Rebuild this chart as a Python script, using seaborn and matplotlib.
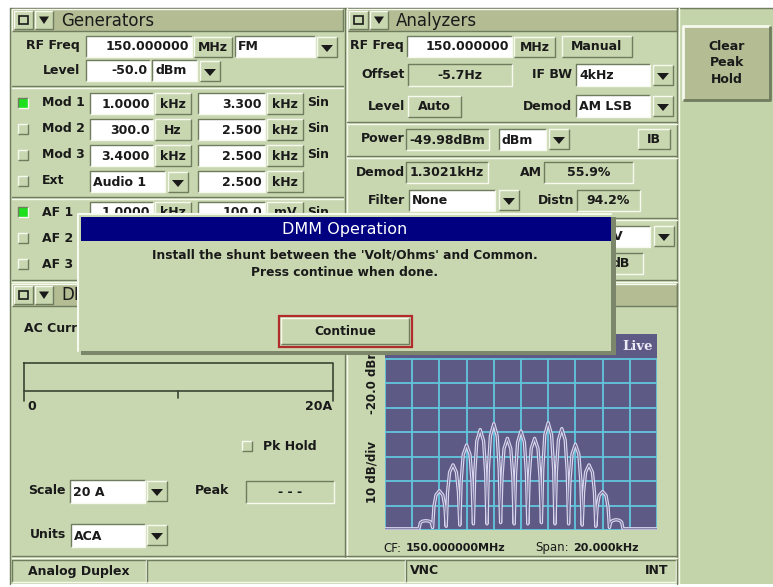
import matplotlib
matplotlib.use('Agg')
import matplotlib.pyplot as plt
import matplotlib.patches as patches
import seaborn as sns
import pandas as pd

# Spectrum trace (offset from CF in kHz, level in dBm)
trace_khz = [-10, -7.5, -7.4, -7.25, -7, -6.75, -6.6,
             -6.5, -6.4, -6.25, -6, -5.75, -5.6,
             -5.5, -5.4, -5.25, -5, -4.75, -4.6,
             -4.5, -4.4, -4.25, -4, -3.75, -3.6,
             -3.5, -3.4, -3.25, -3, -2.75, -2.6,
             -2.5, -2.4, -2.25, -2, -1.75, -1.6,
             -1.5, -1.4, -1.25, -1, -0.75, -0.6,
             -0.5, -0.4, -0.25, 0, 0.25, 0.4,
             0.5, 0.6, 0.75, 1, 1.25, 1.4,
             1.5, 1.6, 1.75, 2, 2.25, 2.4,
             2.5, 2.6, 2.75, 3, 3.25, 3.4,
             3.5, 3.6, 3.75, 4, 4.25, 4.4,
             4.5, 4.6, 4.75, 5, 5.25, 5.4,
             5.5, 5.6, 5.75, 6, 6.25, 6.4,
             6.5, 6.6, 6.75, 7, 7.25, 7.4,
             7.5, 10]
trace_dbm = [-99.5, -99.5, -97.0, -96.4, -96.2, -96.4, -97.0,
             -99.0, -90.3, -85.7, -84.0, -85.7, -90.3,
             -98.5, -84.5, -76.4, -73.4, -76.4, -84.5,
             -98.0, -80.0, -69.2, -65.3, -69.2, -80.0,
             -97.5, -76.6, -63.7, -59.0, -63.7, -76.6,
             -97.5, -75.2, -61.6, -56.6, -61.6, -75.2,
             -97.0, -78.5, -66.8, -62.6, -66.8, -78.5,
             -97.5, -76.9, -64.2, -59.6, -64.2, -76.9,
             -97.5, -78.5, -66.8, -62.6, -66.8, -78.5,
             -97.0, -75.0, -61.2, -56.2, -61.2, -75.0,
             -97.5, -76.3, -63.3, -58.6, -63.3, -76.3,
             -97.5, -79.9, -69.0, -65.0, -69.0, -79.9,
             -98.0, -84.5, -76.4, -73.4, -76.4, -84.5,
             -98.5, -90.5, -85.9, -84.3, -85.9, -90.5,
             -99.0, -96.8, -96.1, -95.8, -96.1, -96.8,
             -99.5, -99.5]

# Display settings shown on screen
ref_level = -20.0
db_per_div = 10
span_khz = 20.0

# Generator modulation rows
mod_labels = ['Mod 1', 'Mod 2', 'Mod 3']
mod_on = [True, False, False]
mod_rate = ['1.0000', '300.0', '3.4000']
mod_rate_unit = ['kHz', 'Hz', 'kHz']
mod_dev = ['3.300', '2.500', '2.500']
af_labels = ['AF 1', 'AF 2', 'AF 3']
af_on = [True, False, False]

sns.set_theme(style='white')
plt.rcParams['font.family'] = ['DejaVu Sans']

BG = '#c8d7b0'
BAR = '#b3bc93'
DARK = '#707c5e'
LIGHT = '#f6f9ee'
INK = '#1a1a1a'
NAVY = '#000080'

fig = plt.figure(figsize=(7.73, 5.87), dpi=100)
fig.patch.set_facecolor('white')
ax = fig.add_axes([0, 0, 1, 1], zorder=0)
ax.set_xlim(0, 773)
ax.set_ylim(587, 0)
ax.axis('off')


def box(x, y, w, h, fc, a=None, z=1):
    a = a or ax
    a.add_patch(patches.Rectangle((x, y), w, h, fc=fc, ec='none', zorder=z))


def bevel(x, y, w, h, up=True, a=None, z=1.1, lw=1.0):
    a = a or ax
    tl, br = (LIGHT, DARK) if up else (DARK, LIGHT)
    a.plot([x, x, x + w], [y + h, y, y], color=tl, lw=lw, zorder=z, solid_capstyle='butt')
    a.plot([x, x + w, x + w], [y + h, y + h, y], color=br, lw=lw, zorder=z, solid_capstyle='butt')


def txt(x, y, s, ha='left', size=9, color=INK, weight='bold', a=None, z=3, **kw):
    a = a or ax
    a.text(x, y, s, ha=ha, va='center', fontsize=size, color=color,
           fontweight=weight, zorder=z, **kw)


def field(x, y, w, h, s='', fc='white', ha='right', a=None, z=1):
    box(x, y, w, h, fc, a, z)
    bevel(x, y, w, h, up=False, a=a, z=z + 0.05)
    if s:
        tx = {'right': x + w - 3, 'left': x + 3, 'center': x + w / 2}[ha]
        txt(tx, y + h / 2 + 0.5, s, ha=ha, a=a, z=z + 0.1)


def button(x, y, w, h, s='', fc=BG, a=None, z=1, lw=1.0, size=9):
    box(x, y, w, h, fc, a, z)
    bevel(x, y, w, h, up=True, a=a, z=z + 0.05, lw=lw)
    if s:
        txt(x + w / 2, y + h / 2 + 0.5, s, ha='center', a=a, z=z + 0.1, size=size)


def dropdown(x, y):
    button(x, y, 20, 20)
    ax.add_patch(patches.Polygon([(x + 4, y + 8), (x + 16, y + 8), (x + 10, y + 15)],
                                 closed=True, fc=INK, ec='none', zorder=2))


def checkbox(x, y, on=False):
    box(x, y, 10, 10, '#1ee01e' if on else BG)
    bevel(x, y, 10, 10, up=not on)


def separator(x0, x1, y):
    ax.plot([x0, x1], [y, y], color=DARK, lw=1, zorder=1.2)
    ax.plot([x0, x1], [y + 1.5, y + 1.5], color=LIGHT, lw=1, zorder=1.2)


def title_bar(x, y, w, title):
    box(x, y, w, 22, BAR)
    bevel(x, y, w, 22, up=True)
    button(x + 2, y + 2, 19, 18)
    ax.add_patch(patches.Rectangle((x + 7, y + 7), 9, 8, fc='none', ec=INK, lw=1.2, zorder=2))
    button(x + 23, y + 2, 18, 18)
    ax.add_patch(patches.Polygon([(x + 27, y + 7.5), (x + 37, y + 7.5), (x + 32, y + 15)],
                                 closed=True, fc=INK, ec='none', zorder=2))
    txt(x + 49, y + 11.5, title, size=12, weight='normal')


# ---- outer frame and panel backgrounds ----
box(10, 8, 763, 576, BG, z=0.5)
box(677, 8, 96, 576, '#c4d4aa', z=0.6)
ax.plot([10, 10], [8, 584], color=DARK, lw=1, zorder=1)
ax.plot([10, 773], [8, 8], color=DARK, lw=1, zorder=1)
ax.plot([345, 345], [8, 558], color=DARK, lw=1, zorder=1.2)
ax.plot([346.5, 346.5], [8, 558], color=LIGHT, lw=1, zorder=1.2)
ax.plot([677, 677], [8, 584], color=DARK, lw=1, zorder=1.2)
ax.plot([678.5, 678.5], [8, 584], color=LIGHT, lw=1, zorder=1.2)

# ---- Generators panel ----
title_bar(12, 9, 331, 'Generators')
txt(80, 46, 'RF Freq', ha='right')
field(86, 36, 106, 21, '150.000000')
button(194, 37, 38, 20, 'MHz')
field(235, 36, 80, 21, 'FM', ha='left')
dropdown(317, 37)
txt(80, 70, 'Level', ha='right')
field(86, 60, 64, 21, '-50.0')
field(152, 60, 45, 21, 'dBm', ha='left')
dropdown(200, 61)
separator(12, 343, 86)

for i, lab in enumerate(mod_labels):
    c = 103 + 26 * i
    checkbox(18, c - 5, mod_on[i])
    txt(42, c, lab)
    field(90, c - 10, 63, 21, mod_rate[i])
    button(155, c - 10, 36, 21, mod_rate_unit[i])
    field(198, c - 10, 67, 21, mod_dev[i])
    button(267, c - 10, 36, 21, 'kHz')
    txt(307, c, 'Sin')
c = 181
checkbox(18, c - 5)
txt(42, c, 'Ext')
field(90, c - 10, 75, 21, 'Audio 1', ha='left')
dropdown(168, c - 9)
field(198, c - 10, 67, 21, '2.500')
button(267, c - 10, 36, 21, 'kHz')
separator(12, 343, 197)

for i, lab in enumerate(af_labels):
    c = 212 + 26 * i
    checkbox(18, c - 5, af_on[i])
    txt(42, c, lab)
field(90, 202, 63, 21, '1.0000')
button(155, 202, 36, 21, 'kHz')
field(198, 202, 67, 21, '100.0')
button(267, 202, 36, 21, 'mV')
txt(307, 212, 'Sin')
separator(12, 343, 280)

# ---- DMM panel ----
title_bar(12, 284, 331, 'DMM')
txt(24, 329, 'AC Current')
ax.plot([24, 333, 333, 24, 24], [363, 363, 391, 391, 363], color='#3c4432', lw=1.2, zorder=2)
ax.plot([24, 24], [391, 401], color='#3c4432', lw=1.2, zorder=2)
ax.plot([178, 178], [391, 398], color='#3c4432', lw=1.2, zorder=2)
ax.plot([333, 333], [391, 401], color='#3c4432', lw=1.2, zorder=2)
txt(27, 406, '0')
txt(332, 406, '20A', ha='right')
checkbox(242, 441)
txt(263, 446, 'Pk Hold')
txt(28, 491, 'Scale')
field(70, 480, 75, 23, '20 A', ha='left')
dropdown(147, 481)
txt(195, 491, 'Peak')
field(246, 481, 88, 22, '- - -', fc=BG, ha='center')
txt(30, 535, 'Units')
field(71, 524, 74, 23, 'ACA', ha='left')
dropdown(147, 525)
separator(12, 677, 556)

# ---- status bar ----
field(12, 560, 134, 22, fc=BG)
txt(28, 571, 'Analog Duplex')
field(147, 560, 258, 22, fc=BG)
field(406, 560, 270, 22, fc=BG)
txt(410, 571, 'VNC')
txt(668, 571, 'INT', ha='right')

# ---- Analyzers panel ----
title_bar(347, 9, 330, 'Analyzers')
txt(350, 46, 'RF Freq')
field(407, 36, 105, 21, '150.000000')
button(514, 37, 41, 20, 'MHz')
button(562, 36, 70, 21, 'Manual')
txt(405, 75, 'Offset', ha='right')
field(408, 64, 104, 22, '-5.7Hz', fc=BG, ha='center')
txt(572, 75, 'IF BW', ha='right')
field(576, 64, 74, 22, '4kHz', ha='left')
dropdown(653, 65)
txt(405, 106, 'Level', ha='right')
button(408, 96, 53, 21, 'Auto')
txt(572, 106, 'Demod', ha='right')
field(576, 95, 74, 22, 'AM LSB', ha='left')
dropdown(653, 96)
separator(347, 677, 122)
txt(405, 139, 'Power', ha='right')
field(406, 129, 83, 21, '-49.98dBm', fc=BG, ha='center')
field(499, 129, 47, 21, 'dBm', ha='left')
dropdown(549, 129)
button(638, 129, 32, 20, 'IB')
separator(347, 677, 156)
txt(405, 172, 'Demod', ha='right')
field(406, 162, 82, 21, '1.3021kHz', fc=BG, ha='center')
txt(520, 172, 'AM')
field(544, 162, 89, 21, '55.9%', fc=BG, ha='center')
txt(405, 200, 'Filter', ha='right')
field(409, 190, 86, 21, 'None', ha='left')
dropdown(499, 190)
txt(574, 200, 'Distn', ha='right')
field(577, 190, 63, 21, '94.2%', fc=BG, ha='center')
separator(347, 677, 218)
field(560, 226, 90, 21)
txt(613, 236.5, 'V')
dropdown(654, 226)
field(560, 253, 83, 21, fc=BG)
txt(612, 263.5, 'dB')
separator(347, 677, 280)
title_bar(347, 284, 330, 'Spectrum')

# ---- spectrum display labels ----
txt(372, 380, '%.1f dBm' % ref_level, ha='center', rotation=90, size=8.5)
txt(372, 472, '%d dB/div' % db_per_div, ha='center', rotation=90, size=8.5)
txt(383, 548, 'CF:', weight='normal', size=8.5)
txt(406, 548, '150.000000MHz', size=8)
txt(535, 548, 'Span:', weight='normal', size=8.5)
txt(573, 548, '%.3fkHz' % span_khz, size=8)

# ---- right column ----
button(683, 26, 87, 74, fc=BAR, lw=2)
txt(727, 63, 'Clear\nPeak\nHold', ha='center', linespacing=1.35, size=9)

# ---- spectrum trace (seaborn) ----
sax = fig.add_axes([385 / 773, 1 - 530 / 587, 272 / 773, 196 / 587], zorder=1)
sax.set_facecolor('#5d5b86')
sax.set_xlim(-span_khz / 2, span_khz / 2)
sax.set_ylim(ref_level - 8 * db_per_div, ref_level)
grid_x = [-10, -8, -6, -4, -2, 0, 2, 4, 6, 8, 10]
grid_y = [-100, -90, -80, -70, -60, -50, -40, -30]
sax.vlines(grid_x, -100, -30, color='#62c6de', lw=1.3, zorder=1)
sax.hlines(grid_y, -10, 10, color='#62c6de', lw=1.3, zorder=1)
df = pd.DataFrame({'khz': trace_khz, 'dbm': trace_dbm})
sns.lineplot(data=df, x='khz', y='dbm', ax=sax, color='#dad6ee', lw=2.4, sort=False, zorder=3)
sns.lineplot(data=df, x='khz', y='dbm', ax=sax, color='#6a6894', lw=0.7, sort=False, zorder=4)
sax.text(9.7, -25, 'Live', ha='right', va='center', fontsize=9.5, color='#ecebf6',
         family='DejaVu Serif', fontweight='bold')
sax.set_xticks([])
sax.set_yticks([])
sax.set_xlabel('')
sax.set_ylabel('')
for sp in sax.spines.values():
    sp.set_visible(False)

# ---- DMM Operation dialog (drawn on top) ----
dax = fig.add_axes([0, 0, 1, 1], zorder=2)
dax.set_xlim(0, 773)
dax.set_ylim(587, 0)
dax.axis('off')
dax.patch.set_alpha(0)
box(81, 217, 535, 138, '#7b866a', a=dax, z=1)
box(78, 214, 533, 137, BG, a=dax, z=2)
dax.plot([78, 78, 611], [351, 214, 214], color=LIGHT, lw=1.5, zorder=3)
box(81, 217, 530, 24, NAVY, a=dax, z=3)
txt(345, 229.5, 'DMM Operation', ha='center', size=11.5, color='white', weight='normal', a=dax, z=4)
txt(345, 255, "Install the shunt between the 'Volt/Ohms' and Common.", ha='center', size=8.8, a=dax, z=4)
txt(345, 272, 'Press continue when done.', ha='center', size=8.8, a=dax, z=4)
button(281, 318, 128, 26, 'Continue', a=dax, z=4, size=8.8)
dax.add_patch(patches.Rectangle((278.5, 315.5), 133, 31, fc='none', ec='#b22c2c', lw=1.6, zorder=5))

fig.savefig('out.png', dpi=100)
